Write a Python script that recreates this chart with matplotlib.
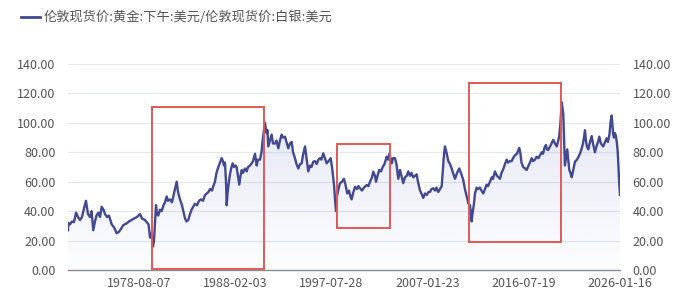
import numpy as np
import pandas as pd
import matplotlib
matplotlib.use("Agg")
import matplotlib.pyplot as plt
import matplotlib.dates as mdates
from matplotlib.patches import Rectangle

plt.rcParams['font.family'] = ['Noto Sans CJK SC', 'DejaVu Sans']

series_name = "伦敦现货价:黄金:下午:美元/伦敦现货价:白银:美元"

# decimal year, gold/silver ratio
years = [
    1971.61, 1971.66, 1971.81, 1972.00, 1972.20, 1972.40, 1972.60, 1972.79, 1972.99, 1973.19,
    1973.38, 1973.58, 1973.78, 1973.93, 1974.10, 1974.27, 1974.42, 1974.60, 1974.77, 1974.93,
    1975.11, 1975.26, 1975.46, 1975.65, 1975.92, 1976.15, 1976.41, 1976.64, 1976.84, 1977.06,
    1977.40, 1977.62, 1977.89, 1978.12, 1978.41, 1978.71, 1978.91, 1979.20, 1979.43, 1979.55,
    1979.70, 1979.84, 1979.99, 1980.09, 1980.19, 1980.29, 1980.39, 1980.51, 1980.68, 1980.85,
    1981.03, 1981.17, 1981.34, 1981.47, 1981.67, 1981.86, 1981.99, 1982.16, 1982.33, 1982.46,
    1982.65, 1982.85, 1983.05, 1983.15, 1983.29, 1983.47, 1983.64, 1983.79, 1983.96, 1984.13,
    1984.33, 1984.53, 1984.72, 1984.92, 1985.12, 1985.29, 1985.46, 1985.61, 1985.81, 1985.94,
    1986.10, 1986.25, 1986.43, 1986.60, 1986.76, 1986.89, 1986.99, 1987.09, 1987.19, 1987.26,
    1987.34, 1987.42, 1987.58, 1987.73, 1987.85, 1987.98, 1988.13, 1988.24, 1988.37, 1988.50,
    1988.62, 1988.74, 1988.87, 1989.06, 1989.23, 1989.36, 1989.56, 1989.72, 1989.85, 1990.05,
    1990.22, 1990.34, 1990.54, 1990.69, 1990.77, 1990.89, 1991.03, 1991.20, 1991.28, 1991.36,
    1991.53, 1991.69, 1991.82, 1992.02, 1992.17, 1992.35, 1992.51, 1992.68, 1992.81, 1993.01,
    1993.15, 1993.33, 1993.50, 1993.67, 1993.80, 1993.99, 1994.14, 1994.32, 1994.49, 1994.65,
    1994.78, 1994.98, 1995.13, 1995.30, 1995.47, 1995.62, 1995.80, 1995.96, 1996.13, 1996.29,
    1996.46, 1996.60, 1996.78, 1996.95, 1997.12, 1997.30, 1997.51, 1997.64, 1997.74, 1997.84,
    1997.94, 1998.04, 1998.13, 1998.28, 1998.43, 1998.63, 1998.82, 1998.97, 1999.15, 1999.32,
    1999.46, 1999.58, 1999.71, 1999.91, 2000.11, 2000.25, 2000.40, 2000.60, 2000.80, 2001.06,
    2001.24, 2001.39, 2001.58, 2001.71, 2001.88, 2001.98, 2002.13, 2002.30, 2002.47, 2002.64,
    2002.82, 2003.03, 2003.16, 2003.29, 2003.41, 2003.53, 2003.66, 2003.85, 2004.00, 2004.18,
    2004.35, 2004.49, 2004.67, 2004.84, 2005.01, 2005.16, 2005.33, 2005.48, 2005.66, 2005.82,
    2005.99, 2006.12, 2006.32, 2006.46, 2006.64, 2006.81, 2006.98, 2007.15, 2007.30, 2007.45,
    2007.63, 2007.80, 2007.94, 2008.12, 2008.29, 2008.46, 2008.59, 2008.68, 2008.78, 2008.93,
    2009.11, 2009.28, 2009.44, 2009.57, 2009.77, 2009.97, 2010.19, 2010.36, 2010.59, 2010.75,
    2010.92, 2011.10, 2011.25, 2011.35, 2011.41, 2011.49, 2011.64, 2011.74, 2011.91, 2012.04,
    2012.23, 2012.38, 2012.56, 2012.73, 2012.89, 2013.02, 2013.22, 2013.39, 2013.52, 2013.71,
    2013.91, 2014.06, 2014.21, 2014.35, 2014.50, 2014.70, 2014.87, 2015.00, 2015.19, 2015.36,
    2015.49, 2015.69, 2015.88, 2016.11, 2016.23, 2016.33, 2016.50, 2016.67, 2016.84, 2017.02,
    2017.16, 2017.33, 2017.46, 2017.66, 2017.82, 2018.00, 2018.15, 2018.32, 2018.45, 2018.59,
    2018.74, 2018.84, 2018.97, 2019.14, 2019.28, 2019.46, 2019.63, 2019.80, 2019.92, 2020.05,
    2020.17, 2020.29, 2020.37, 2020.45, 2020.52, 2020.61, 2020.71, 2020.84, 2020.96, 2021.04,
    2021.16, 2021.28, 2021.40, 2021.60, 2021.80, 2021.94, 2022.09, 2022.24, 2022.39, 2022.49,
    2022.59, 2022.68, 2022.78, 2022.91, 2023.08, 2023.25, 2023.38, 2023.57, 2023.72, 2023.87,
    2024.00, 2024.16, 2024.39, 2024.56, 2024.72, 2024.85, 2025.00, 2025.10, 2025.22, 2025.30,
    2025.38, 2025.45, 2025.54, 2025.64, 2025.74, 2025.82, 2025.89, 2025.97, 2026.04,
]
ratio = [
    27, 32, 31, 33, 32.5, 39, 36, 34, 36, 42,
    47, 38, 36, 40, 27, 33, 37, 39, 36, 43,
    41, 38, 36, 37, 31, 29, 25, 26, 28, 30.5,
    31.7, 33, 34, 35, 36, 38, 35, 34, 32, 31,
    22, 25, 16, 20, 32, 44, 38, 37, 41, 40,
    44, 46, 50, 47, 48, 46, 50, 55, 60, 53,
    48, 44, 38, 35, 33, 34, 38, 41, 43, 45,
    44, 47, 48, 47, 51, 52, 53, 55, 54, 57,
    60, 66, 70, 73, 76, 74, 71, 73, 60, 44,
    52, 57, 65, 70, 72.5, 70, 71, 70, 64, 58,
    64, 68, 66, 69, 67, 70, 71, 72.5, 74, 79,
    71, 75, 75, 80, 86, 93, 100, 93, 95, 84,
    88, 92, 86, 86, 88, 82.7, 88, 92, 90, 90.6,
    87, 82.7, 86, 87, 80, 76, 72, 69, 72, 72.5,
    78, 84, 76, 67, 71, 70, 73.6, 74, 72, 74.8,
    76, 75, 79.3, 76, 72.5, 74, 76, 70, 64, 58,
    48, 40, 50, 55, 59, 60, 62, 58, 52, 54,
    50, 48, 52, 56.6, 55, 57, 55.6, 54, 56, 57.8,
    57, 60, 63, 66.8, 64, 60, 64, 68, 67, 70,
    72, 77, 75, 79, 76, 72.5, 76, 76, 72, 62,
    68, 64, 59, 63, 64, 67, 64, 66, 63, 64,
    65, 60, 54, 52, 49, 52, 51, 53, 53, 55,
    55.5, 54, 56, 53, 55, 57, 70, 78, 84, 80,
    74, 72, 69, 66, 62, 66, 69, 66, 61, 55,
    50, 45, 44, 38, 33, 38, 45, 52, 56, 55,
    56, 54, 52, 55, 58, 57, 60, 63, 62, 67,
    64, 63, 62, 66, 68, 72, 75, 73, 74, 74,
    76, 78, 79, 83, 79, 73, 70, 69, 68, 71,
    73, 76, 74, 75, 77, 76, 78, 80, 79, 83,
    85, 82, 81.6, 84, 86, 88.4, 86, 84, 87, 91,
    100, 114, 110, 106, 90, 71, 76, 82, 74, 68,
    66, 63, 67, 73.6, 75, 77, 79, 82, 86, 90,
    95, 88, 84, 82, 87, 91, 86, 80, 84, 87,
    90.6, 86, 84, 87, 89.5, 87, 92, 100, 105, 98,
    92, 90, 93, 91, 86, 80, 70, 58, 51,
]

tick_dates = ["1978-08-07", "1988-02-03", "1997-07-28", "2007-01-23", "2016-07-19", "2026-01-16"]
y_ticks = [0, 20, 40, 60, 80, 100, 120, 140]

# highlight boxes: (start year, end year, low, high)
boxes = [
    (1979.89, 1990.94, 1, 111),
    (1998.13, 2003.36, 28.5, 85.7),
    (2011.15, 2020.22, 19, 127),
]

line_color = "#414990"
box_color = "#de5a5a"
text_color = "#555555"


def to_date(y):
    base = pd.Timestamp(int(y), 1, 1)
    return base + pd.Timedelta(days=(y - int(y)) * 365.25)


dates = [to_date(y) for y in years]
x = mdates.date2num(dates)
x_end = mdates.date2num(pd.Timestamp(tick_dates[-1]))

fig = plt.figure(figsize=(6.92, 3.04), dpi=100)
ax = fig.add_axes([68 / 692, 34 / 304, 552 / 692, 206 / 304])

# gradient fill under the line
poly = ax.fill_between(x, ratio, 0, color="none", lw=0)
grad = np.zeros((256, 1, 4))
grad[:, 0, 0] = 0.36
grad[:, 0, 1] = 0.40
grad[:, 0, 2] = 0.72
grad[:, 0, 3] = np.linspace(0.17, 0.01, 256)
im = ax.imshow(grad, extent=[x[0], x_end, 0, 115], aspect="auto", origin="upper", zorder=1)
im.set_clip_path(poly.get_paths()[0], transform=ax.transData)

ax.plot(x, ratio, color=line_color, lw=1.7, zorder=3)

for x0, x1, lo, hi in boxes:
    d0 = mdates.date2num(to_date(x0))
    d1 = mdates.date2num(to_date(x1))
    ax.add_patch(Rectangle((d0, lo), d1 - d0, hi - lo, fill=False,
                           edgecolor=box_color, lw=1.4, zorder=4))

ax.set_xlim(x[0], x_end)
ax.set_ylim(0, 140)
ax.set_yticks(y_ticks)
ax.set_yticklabels([f"{v:.2f}" for v in y_ticks])
ax.set_xticks(mdates.date2num(pd.to_datetime(tick_dates)))
ax.set_xticklabels(tick_dates)
ax.grid(axis="y", color="#e6e8ee", lw=0.9)
ax.set_axisbelow(True)
for s in ["left", "right", "top"]:
    ax.spines[s].set_visible(False)
ax.spines["bottom"].set_color("#8a8c94")
ax.spines["bottom"].set_linewidth(1.0)
ax.tick_params(axis="both", length=0, labelsize=9, labelcolor=text_color)
ax.tick_params(axis="y", pad=9)
ax.tick_params(axis="x", pad=5)

ax2 = ax.twinx()
ax2.set_ylim(0, 140)
ax2.set_yticks(y_ticks)
ax2.set_yticklabels([f"{v:.2f}" for v in y_ticks])
for s in ["left", "right", "top", "bottom"]:
    ax2.spines[s].set_visible(False)
ax2.tick_params(axis="y", length=0, labelsize=9, labelcolor=text_color, pad=9)

# legend
fig.add_artist(plt.Line2D([21 / 692, 40 / 692], [1 - 17 / 304, 1 - 17 / 304],
                          color=line_color, lw=2))
fig.text(44 / 692, 1 - 17 / 304, series_name, fontsize=9.5, color=text_color,
         va="center", ha="left")

fig.savefig("out.png", dpi=100)
